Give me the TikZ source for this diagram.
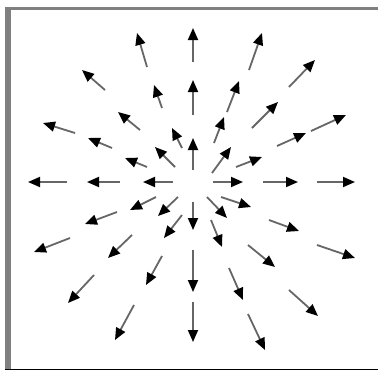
\documentclass[tikz,border=0pt]{standalone}
\usetikzlibrary{arrows.meta}

\tikzset{
  fieldarrow/.style={-{Triangle[length=12pt,width=10pt,color=black]},line width=1.8pt,draw=black!60},
  frameside/.style={fill=black!50}
}

\begin{document}
\begin{tikzpicture}[x=1pt,y=-1pt]
\useasboundingbox (0,0) rectangle (378,370);
% frame
\fill[frameside] (5,7) rectangle (11,369);
\fill[frameside] (5,7) rectangle (378,10);
\draw[line width=1pt] (5,369) -- (378,369);
% upper left
\foreach \xa/\ya/\xb/\yb in {147/67/137/33,105/90/82/70,162/108/154/85,75/133/43/123,
    140/130/118/112,182/148/172/128,112/148/88/138,175/167/155/147,147/167/125/158}
  \draw[fieldarrow] (\xa,\ya) -- (\xb,\yb);
% upper right
\foreach \xa/\ya/\xb/\yb in {249/70/262/33,289/87/315/60,227/112/239/81,252/128/278/102,
    311/131/346/115,214/143/224/117,277/146/306/133,212/173/231/147,236/167/262/157}
  \draw[fieldarrow] (\xa,\ya) -- (\xb,\yb);
% lower left
\foreach \xa/\ya/\xb/\yb in {156/197/130/210,178/197/158/216,117/212/85/224,182/215/164/238,
    70/238/34/252,132/235/108/258,162/256/146/285,94/275/68/303,134/305/115/340}
  \draw[fieldarrow] (\xa,\ya) -- (\xb,\yb);
% lower right
\foreach \xa/\ya/\xb/\yb in {221/197/251/207,207/197/227/218,211/220/222/247,269/220/299/231,
    248/245/275/267,317/245/355/258,229/268/243/300,289/290/318/316,248/314/265/350}
  \draw[fieldarrow] (\xa,\ya) -- (\xb,\yb);
% axes
\foreach \xa/\xb in {67/28,120/87,173/143,213/243,263/298,317/355}
  \draw[fieldarrow] (\xa,182) -- (\xb,182);
\foreach \ya/\yb in {62/28,115/80,170/138,202/230,250/292,302/342}
  \draw[fieldarrow] (193,\ya) -- (193,\yb);
\end{tikzpicture}
\end{document}
